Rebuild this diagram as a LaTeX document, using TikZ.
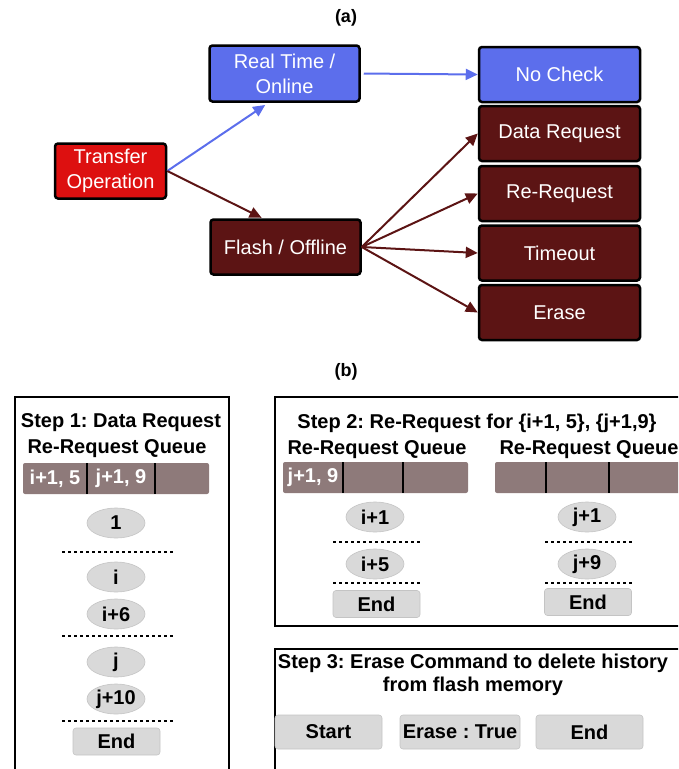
\documentclass[tikz,border=0pt]{standalone}
\usepackage{fontspec}
\setmainfont{Liberation Sans}
\usetikzlibrary{arrows.meta,shapes.geometric}
\frenchspacing

\definecolor{onlineblue}{RGB}{92,110,236}
\definecolor{flashred}{RGB}{92,20,20}
\definecolor{transred}{RGB}{221,16,16}
\definecolor{queuegray}{RGB}{142,122,122}
\definecolor{slotgray}{RGB}{217,217,217}
\definecolor{slotedge}{RGB}{196,196,196}

\tikzset{
  opbox/.style={draw=black, line width=2.5pt, rounded corners=3pt, text=white,
    align=center, font=\fontsize{20}{25}\selectfont, minimum height=55pt, inner sep=1pt},
  steptitle/.style={font=\bfseries\fontsize{20}{23}\selectfont, align=center, inner sep=0pt},
  slot/.style={ellipse, fill=slotgray, draw=slotedge, line width=0.6pt, minimum width=58pt,
    minimum height=30pt, inner sep=0pt, font=\bfseries\fontsize{20}{24}\selectfont},
  endbox/.style={fill=slotgray, draw=slotedge, line width=0.6pt, rounded corners=3pt,
    minimum width=87pt, minimum height=27pt, inner sep=0pt, font=\bfseries\fontsize{20}{24}\selectfont},
  cmdbox/.style={fill=slotgray, draw=slotedge, line width=0.6pt, rounded corners=3pt,
    minimum height=34pt, inner sep=0pt, font=\bfseries\fontsize{20}{24}\selectfont},
  qtext/.style={text=white, font=\bfseries\fontsize{20}{24}\selectfont, inner sep=0pt},
  flow/.style={line width=2pt, -{Triangle[length=12pt,width=11pt]}},
  sep/.style={line width=2.8pt, dash pattern=on 2.6pt off 3.4pt},
  frame/.style={line width=1.5pt}
}

\begin{document}
\begin{tikzpicture}[x=1pt, y=-1pt]
    \useasboundingbox (0,0) rectangle (678,769);
    \clip (0,0) rectangle (678,769);

    % (a) transfer modes
    \node[steptitle, font=\bfseries\fontsize{18}{20}\selectfont] (capa) at (346,18) {(a)};
    \node[opbox, fill=transred, minimum width=111pt] (trans) at (110.5,171) {Transfer\\Operation};
    \node[opbox, fill=onlineblue, minimum width=150pt, minimum height=56pt] (online) at (284.5,73.5) {Real Time /\\Online};
    \node[opbox, fill=flashred, minimum width=150pt] (flash) at (285.5,247) {Flash / Offline};

    \node[opbox, fill=onlineblue, minimum width=161pt] (nocheck) at (559.5,74.5) {No Check};
    \node[opbox, fill=flashred, minimum width=161pt] (datareq) at (559.5,133.5) {Data Request};
    \node[opbox, fill=flashred, minimum width=161pt] (rereq) at (559.5,193.5) {Re-Request};
    \node[opbox, fill=flashred, minimum width=161pt] (timeout) at (559.5,253) {Timeout};
    \node[opbox, fill=flashred, minimum width=161pt] (erase) at (559.5,312.5) {Erase};

    % Arrows
    \draw[flow, onlineblue, shorten >=4pt] (trans.east) -- ([xshift=-16pt]online.south);
    \draw[flow, flashred, shorten >=1pt] (trans.east) -- ([xshift=-23pt]flash.north);
    \draw[flow, onlineblue, shorten <=3pt] (online.east) -- (nocheck.west);
    \foreach \dest in {datareq,rereq,timeout,erase}
        \draw[flow, flashred] (flash.east) -- (\dest.west);

    % (b) steps
    \node[steptitle, font=\bfseries\fontsize{18}{20}\selectfont] (capb) at (346,372) {(b)};

    % Step 1
    \draw[frame] (15,397) rectangle (229,790);
    \node[steptitle] (title1) at (121,423) {Step 1: Data Request};
    \node[steptitle] (queue1) at (117,449) {Re-Request Queue};
    \fill[queuegray, rounded corners=2pt] (23,463) rectangle (209,494);
    \foreach \x in {87,155} \draw[line width=2pt] (\x,463) -- (\x,494);
    \node[qtext] (q1a) at (55,478.5) {i+1, 5};
    \node[qtext] (q1b) at (121,478.5) {j+1, 9};

    \node[slot] (s1) at (116,523) {1};
    \draw[sep] (62,552) -- (173,552);
    \node[slot] (si) at (116,577) {i};
    \node[slot] (si6) at (116,614) {i+6};
    \draw[sep] (62,636) -- (173,636);
    \node[slot] (sj) at (116,662) {j};
    \node[slot] (sj10) at (116,699) {j+10};
    \draw[sep] (62,721) -- (173,721);
    \node[endbox] (end1) at (116.5,741.5) {End};

    % Step 2
    \draw[frame] (275,397) rectangle (700,626);
    \node[steptitle] (title2) at (477,423) {Step 2: Re-Request for \{i+1, 5\}, \{j+1,9\}};
    \node[steptitle] (queue2) at (377,450) {Re-Request Queue};
    \node[steptitle] (queue3) at (589,450) {Re-Request Queue};
    \fill[queuegray, rounded corners=2pt] (283,462) rectangle (468,493);
    \fill[queuegray, rounded corners=2pt] (495,462) rectangle (690,493);
    \foreach \x in {343,403,546,609} \draw[line width=2pt] (\x,462) -- (\x,493);
    \node[qtext] (q2a) at (313,477.5) {j+1, 9};

    \node[slot] (si1) at (375,517) {i+1};
    \draw[sep] (333,542) -- (421,542);
    \node[slot] (si5) at (375,564) {i+5};
    \draw[sep] (333,583) -- (421,583);
    \node[endbox] (end2) at (376.5,604) {End};

    \node[slot] (sj1) at (587,517) {j+1};
    \draw[sep] (545,542) -- (633,542);
    \node[slot] (sj9) at (587,564) {j+9};
    \draw[sep] (545,583) -- (633,583);
    \node[endbox] (end3) at (588,602) {End};

    % Step 3
    \draw[frame] (275,649) rectangle (700,790);
    \node[steptitle] (title3) at (473,674.5) {Step 3: Erase Command to delete history\\from flash memory};
    \node[cmdbox, minimum width=107pt] (start) at (328.5,732) {Start};
    \node[cmdbox, minimum width=120pt] (erasecmd) at (460,732) {Erase : True};
    \node[cmdbox, minimum width=107pt] (end4) at (589.5,732) {End};
\end{tikzpicture}
\end{document}
